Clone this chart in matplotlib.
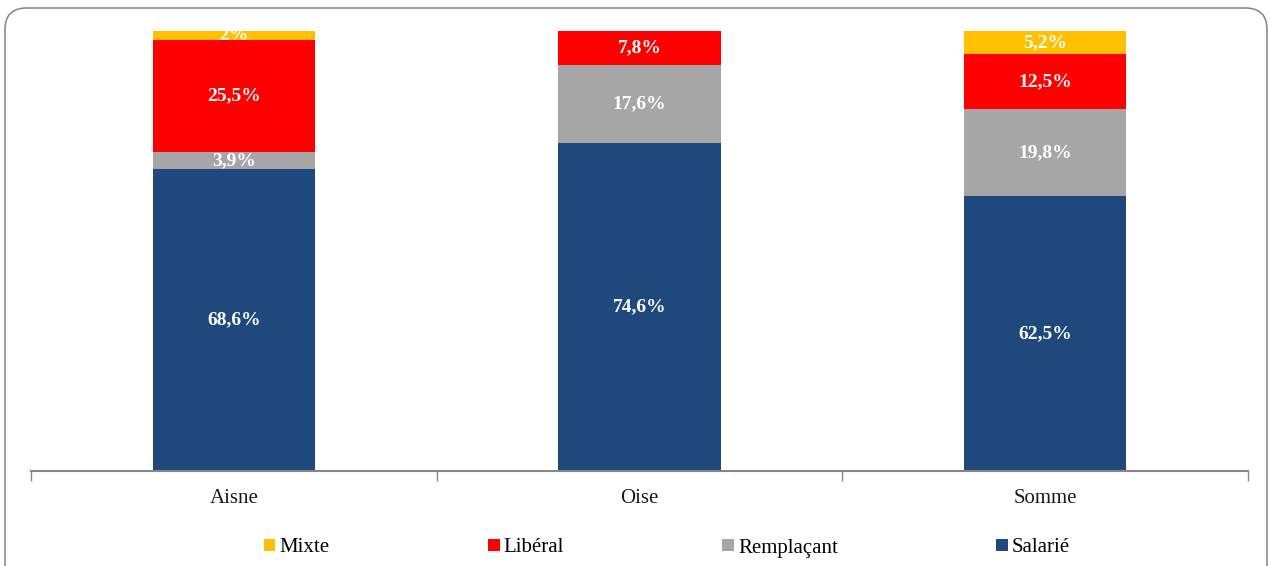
import matplotlib.pyplot as plt
import numpy as np
from matplotlib.patches import FancyBboxPatch

departements = ['Aisne', 'Oise', 'Somme']
series = ['Salarié', 'Remplaçant', 'Libéral', 'Mixte']
salarie = [68.6, 74.6, 62.5]
remplacant = [3.9, 17.6, 19.8]
liberal = [25.5, 7.8, 12.5]
mixte = [2.0, 0.0, 5.2]
labels_salarie = ['68,6%', '74,6%', '62,5%']
labels_remplacant = ['3,9%', '17,6%', '19,8%']
labels_liberal = ['25,5%', '7,8%', '12,5%']
labels_mixte = ['2%', '', '5,2%']

colors = ['#1F497D', '#A6A6A6', '#FF0000', '#FFC000']

plt.rcParams['font.family'] = ['Liberation Serif', 'DejaVu Serif']

fig = plt.figure(figsize=(12.7, 5.66), dpi=100)
ax = fig.add_axes([31 / 1270, 1 - 471 / 566, 1217 / 1270, 440 / 566])

# cadre arrondi autour du graphique
box = FancyBboxPatch((5 / 1270, -0.05), 1262 / 1270, 1.05 - 8 / 566,
                     boxstyle="round,pad=0,rounding_size=0.017",
                     transform=fig.transFigure, facecolor='none',
                     edgecolor='#8C8C8C', linewidth=1.2, mutation_aspect=1270 / 566,
                     clip_on=False)
fig.patches.append(box)

x = np.arange(len(departements))
data = [salarie, remplacant, liberal, mixte]
all_labels = [labels_salarie, labels_remplacant, labels_liberal, labels_mixte]
bottom = np.zeros(len(departements))
bars = []
for vals, col, name, labs in zip(data, colors, series, all_labels):
    b = ax.bar(x, vals, width=0.4, bottom=bottom, color=col, label=name, zorder=2)
    bars.append(b)
    for xi, v, bt, lab in zip(x, vals, bottom, labs):
        if lab:
            ax.text(xi, bt + v / 2, lab, ha='center', va='center', color='white',
                    fontsize=14, fontweight='bold')
    bottom = bottom + np.array(vals)

ax.set_xlim(-0.5, len(departements) - 0.5)
ax.set_ylim(0, 100)
for s in ['top', 'right', 'left']:
    ax.spines[s].set_visible(False)
ax.spines['bottom'].set_color('#868686')
ax.spines['bottom'].set_linewidth(1.5)
ax.set_yticks([])
ax.set_xticks(x)
ax.set_xticklabels(departements, fontsize=15, color='#1a1a1a')
ax.tick_params(axis='x', which='major', length=0, pad=13)
ax.set_xticks(np.arange(-0.5, len(departements)), minor=True)
ax.tick_params(axis='x', which='minor', length=7, width=1, color='#868686')

handles = [bars[3], bars[2], bars[1], bars[0]]
leg = fig.legend(handles, ['Mixte', 'Libéral', 'Remplaçant', 'Salarié'],
                 loc='center', bbox_to_anchor=(667 / 1270, 1 - 548 / 566), ncol=4,
                 frameon=False, fontsize=15, handlelength=0.55, handleheight=0.55,
                 handletextpad=0.2, columnspacing=7.6)

fig.savefig('out.png', dpi=100)
